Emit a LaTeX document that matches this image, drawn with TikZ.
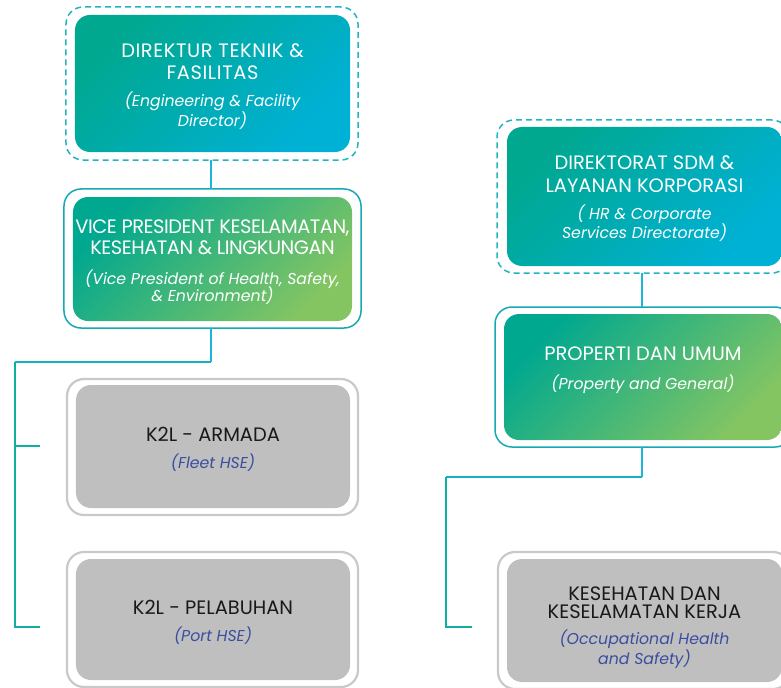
\documentclass[tikz,border=0pt]{standalone}
\usepackage{fontspec}
\setmainfont{Poppins}
\definecolor{tealA}{HTML}{00A88F}
\definecolor{cyanB}{HTML}{00B1D6}
\definecolor{greenM}{HTML}{0CB184}
\definecolor{lightG}{HTML}{84C562}
\definecolor{dashC}{HTML}{22B4C2}
\definecolor{frameC}{HTML}{14A9B4}
\definecolor{grayB}{HTML}{C9C9C9}
\definecolor{grayF}{HTML}{BFBFBF}
\definecolor{subBlue}{HTML}{3A4EA0}
\definecolor{connCyan}{HTML}{1BB6DA}
\definecolor{connMid}{HTML}{16B2BE}
\definecolor{connTeal}{HTML}{10AFA2}
\tikzset{
  frame/.style={rounded corners=17bp, line width=1.5bp, inner sep=0pt, outer sep=0pt},
  dashframe/.style={frame, draw=dashC, dash pattern=on 6bp off 4bp},
  solidframe/.style={frame, draw=frameC},
  grayframe/.style={frame, draw=grayB, line width=2.2bp},
  boxbase/.style={rounded corners=15bp, inner sep=0pt, outer sep=0pt, align=center,
    font=\fontsize{19.5}{18}\selectfont},
  bluebox/.style={boxbase, top color=tealA, bottom color=cyanB, shading angle=45, text=white},
  greenbox/.style={boxbase, top color=tealA, middle color=greenM, bottom color=lightG, shading angle=45, text=white},
  graybox/.style={boxbase, fill=grayF, text=black!90},
  conn/.style={line width=1.8bp},
}
\newcommand{\sub}{\fontsize{15.8}{18}\selectfont\itshape}
\newcommand{\tight}{\addfontfeature{LetterSpace=-2.5}}
\newcommand{\loose}{\addfontfeature{LetterSpace=3}}
\begin{document}
\begin{tikzpicture}[x=1bp,y=-1bp]
\useasboundingbox (0,0) rectangle (781,688);
\clip (0,0) rectangle (781,688);
% left column
\node[dashframe, minimum width=292bp, minimum height=153bp] (o1) at (212,83.5) {};
\node[bluebox, minimum width=275bp, minimum height=137bp] (b1) at (212.5,83.5)
  {\mbox{}\\[2bp] \loose DIREKTUR TEKNIK \&\\[4bp] \loose FASILITAS\\[10bp] \sub (Engineering \& Facility\\ \sub Director)};
\node[solidframe, minimum width=297bp, minimum height=139bp] (o2) at (212.5,258.5) {};
\node[greenbox, minimum width=279bp, minimum height=124bp] (b2) at (212.5,259)
  {\mbox{}\\[2bp] \tight VICE PRESIDENT KESELAMATAN,\\[3bp] \tight KESEHATAN \& LINGKUNGAN\\[12bp] \sub (Vice President of Health, Safety,\\[-2bp] \sub \& Environment)};
\node[grayframe, minimum width=291bp, minimum height=136bp] (o3) at (212.5,447) {};
\node[graybox, minimum width=274bp, minimum height=123bp] (b3) at (213,446.5)
  {\mbox{}\\[2bp] K2L - ARMADA\\[9bp] \sub\color{subBlue} (Fleet HSE)};
\node[grayframe, minimum width=291bp, minimum height=135bp] (o4) at (212.5,619.5) {};
\node[graybox, minimum width=274bp, minimum height=121bp] (b4) at (213,619.5)
  {\mbox{}\\[2bp] K2L - PELABUHAN\\[9bp] \sub\color{subBlue} (Port HSE)};
% right column
\node[dashframe, minimum width=292bp, minimum height=153bp] (o5) at (643,196.5) {};
\node[bluebox, minimum width=275bp, minimum height=139bp] (b5) at (644.5,196.5)
  {\mbox{}\\[0bp] DIREKTORAT SDM \&\\[5bp] LAYANAN KORPORASI\\[9bp] \sub ( HR \& Corporate\\ \sub Services Directorate)};
\node[solidframe, minimum width=297bp, minimum height=140bp] (o6) at (643.5,377) {};
\node[greenbox, minimum width=278bp, minimum height=126bp] (b6) at (643,377)
  {PROPERTI DAN UMUM\\[11bp] \sub (Property and General)\\ \mbox{}};
\node[grayframe, minimum width=292bp, minimum height=137bp] (o7) at (644,620.5) {};
\node[graybox, minimum width=275bp, minimum height=123bp] (b7) at (644.5,620.5)
  {\mbox{}\\[10bp] KESEHATAN DAN\\ KESELAMATAN KERJA\\[9bp] \sub\color{subBlue} (Occupational Health\\ \sub\color{subBlue} and Safety)};
% connector coordinates
\coordinate (j1) at (211,362);
\coordinate (j2) at (15,362);
\coordinate (j3) at (15,446);
\coordinate (j4) at (15,627);
\coordinate (e3) at (40,446);
\coordinate (e4) at (40,627);
\coordinate (k1) at (642,477);
\coordinate (k2) at (446,477);
\coordinate (k3) at (446,627);
\coordinate (e7) at (472,627);
% connectors
\draw[conn, connCyan] (o1.south -| j1) -- (o2.north -| j1);
\draw[conn, connCyan] (o2.south -| j1) -- (j1);
\draw[conn, connMid] (j1) -- (j2);
\draw[conn, connTeal] (j2) -- (j4) -- (e4);
\draw[conn, connTeal] (j3) -- (e3);
\draw[conn, connCyan] (o5.south -| k1) -- (o6.north -| k1);
\draw[conn, connCyan] (o6.south -| k1) -- (k1);
\draw[conn, connMid] (k1) -- (k2);
\draw[conn, connTeal] (k2) -- (k3) -- (e7);
\end{tikzpicture}
\end{document}
